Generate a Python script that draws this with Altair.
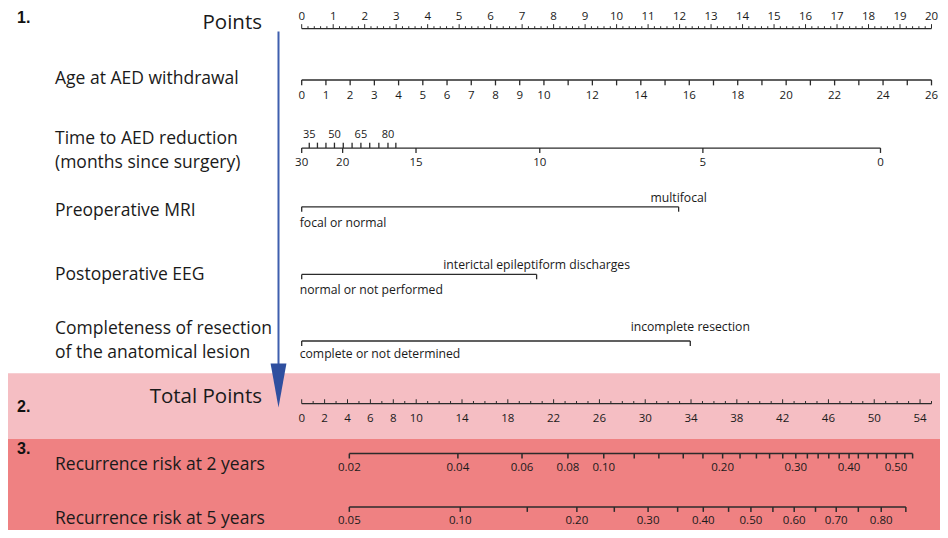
import altair as alt
import pandas as pd
import numpy as np

# ---------------- values ----------------
POINTS_LABELS = list(range(0, 21))
POINTS_MAX = 20

AGE_TICKS = list(range(0, 27))
AGE_LABELS = [0, 1, 2, 3, 4, 5, 6, 7, 8, 9, 10, 12, 14, 16, 18, 20, 22, 24, 26]
AGE_MAX = 26  # age 26 -> 20 points

TIME_LOWER = [30, 20, 15, 10, 5, 0]
TIME_LOWER_PTS = [0.0, 1.30, 3.63, 7.56, 12.74, 18.38]
TIME_UPPER = [35, 40, 45, 50, 55, 60, 65, 70, 75, 80, 85]
TIME_UPPER_PTS = [0.24, 0.50, 0.77, 1.04, 1.32, 1.60, 1.88, 2.16, 2.45, 2.74, 2.99]
TIME_UPPER_LABELS = [35, 50, 65, 80]

MRI_LEVELS = ["focal or normal", "multifocal"]
MRI_PTS = [0.0, 11.97]
EEG_LEVELS = ["normal or not performed", "interictal epileptiform discharges"]
EEG_PTS = [0.0, 7.46]
RES_LEVELS = ["complete or not determined", "incomplete resection"]
RES_PTS = [0.0, 12.34]

TOTAL_MAX = 55
TOTAL_LABELS = [0, 2, 4, 6, 8, 10, 14, 18, 22, 26, 30, 34, 38, 42, 46, 50, 54]

RISK2 = [0.02, 0.04, 0.06, 0.08, 0.10, 0.12, 0.14, 0.16, 0.18, 0.20, 0.22, 0.24,
         0.26, 0.28, 0.30, 0.32, 0.34, 0.36, 0.38, 0.40, 0.42, 0.44, 0.46, 0.48,
         0.50, 0.52, 0.54]
RISK2_TOTAL = [4.16, 13.64, 19.24, 23.25, 26.38, 29.04, 31.19, 33.32, 35.04, 36.76,
               38.28, 39.71, 40.86, 42.01, 43.15, 44.16, 45.10, 46.03, 46.94, 47.80,
               48.61, 49.47, 50.24, 51.04, 51.90, 52.67, 53.35]
RISK2_LABELS = [0.02, 0.04, 0.06, 0.08, 0.10, 0.20, 0.30, 0.40, 0.50]

RISK5 = [0.05, 0.10, 0.15, 0.20, 0.25, 0.30, 0.35, 0.40, 0.45, 0.50, 0.55, 0.60,
         0.65, 0.70, 0.75, 0.80, 0.85]
RISK5_TOTAL = [4.16, 13.85, 19.70, 24.03, 27.30, 30.25, 32.83, 35.07, 37.28, 39.23,
               41.15, 43.01, 44.87, 46.68, 48.61, 50.61, 52.76]
RISK5_LABELS = [0.05, 0.10, 0.20, 0.30, 0.40, 0.50, 0.60, 0.70, 0.80]

ROW_TITLES = ["Age at AED withdrawal", "Time to AED reduction", "(months since surgery)",
              "Preoperative MRI", "Postoperative EEG", "Completeness of resection",
              "of the anatomical lesion", "Recurrence risk at 2 years",
              "Recurrence risk at 5 years"]
BIG_TITLES = ["Points", "Total Points"]
STEP_NUMBERS = ["1.", "2.", "3."]

# ---------------- layout ----------------
W, H = 932, 522
PX0, PX20 = 301.7, 931.5          # page x of 0 and 20 points
PPP = (PX20 - PX0) / POINTS_MAX
XMIN = (8 - PX0) / PPP
XMAX = (8 + W - PX0) / PPP
YTOP, YBOT = 5, 538               # reference rows' vertical frame


def py(v):
    """vertical layout value -> pixel inside the plot area"""
    return (v - YTOP) * H / (YBOT - YTOP)


segs, labs_c, labs_l = [], [], []


def seg(x, x2, y, y2, w=1.3):
    segs.append(dict(x=x, x2=x2, y=y, y2=y2, w=w))


def tot(v):
    return v * POINTS_MAX / TOTAL_MAX


# Points ruler
seg(0, POINTS_MAX, 26, 26)
for v in np.arange(0, POINTS_MAX + 0.001, 0.2):
    major = abs(v - round(v)) < 1e-6
    seg(v, v, 26, 21.5 if major else 23.6, 1.0)
for v in POINTS_LABELS:
    labs_c.append(dict(x=v, y=14.5, t=str(v), s=11.5))

# Age
seg(0, POINTS_MAX, 78.5, 78.5)
for a in AGE_TICKS:
    p = a * POINTS_MAX / AGE_MAX
    seg(p, p, 78.5, 84)
for a in AGE_LABELS:
    labs_c.append(dict(x=a * POINTS_MAX / AGE_MAX, y=95, t=str(a), s=11.5))

# Time to AED reduction
seg(0, TIME_LOWER_PTS[-1], 148, 148)
for v, p in zip(TIME_LOWER, TIME_LOWER_PTS):
    seg(p, p, 148, 153)
    labs_c.append(dict(x=p, y=163, t=str(v), s=11.5))
for v, p in zip(TIME_UPPER, TIME_UPPER_PTS):
    seg(p, p, 148, 142.5)
    if v in TIME_UPPER_LABELS:
        labs_c.append(dict(x=p, y=135, t=str(v), s=11))

# categorical rows
for levels, pts, yl, ya, yb in [(MRI_LEVELS, MRI_PTS, 208, 199, 225),
                                (EEG_LEVELS, EEG_PTS, 277, 267, 293),
                                (RES_LEVELS, RES_PTS, 345, 331, 358)]:
    seg(pts[0], pts[1], yl, yl)
    seg(pts[0], pts[0], yl, yl + 5)
    seg(pts[1], pts[1], yl, yl + 5)
    labs_l.append(dict(x=pts[0], y=yb, t=levels[0], s=12.2))
    labs_c.append(dict(x=pts[1], y=ya, t=levels[1], s=12.2))

# Total points ruler
seg(0, tot(TOTAL_MAX), 409, 409)
for v in range(0, TOTAL_MAX + 1):
    seg(tot(v), tot(v), 409, 404.5 if v in TOTAL_LABELS else 406.3, 1.0)
for v in TOTAL_LABELS:
    labs_c.append(dict(x=tot(v), y=425, t=str(v), s=11.5))

# risk axes
for risks, totals, shown, yl, ylab in [(RISK2, RISK2_TOTAL, RISK2_LABELS, 460, 474.5),
                                       (RISK5, RISK5_TOTAL, RISK5_LABELS, 514.5, 528.5)]:
    seg(tot(totals[0]), tot(totals[-1]), yl, yl, 1.5)
    for r, t in zip(risks, totals):
        seg(tot(t), tot(t), yl, yl + 5, 1.5)
        if any(abs(r - s) < 1e-9 for s in shown):
            labs_c.append(dict(x=tot(t), y=ylab, t=f"{r:.2f}", s=11.5))

seg_df = pd.DataFrame(segs)
labc_df = pd.DataFrame(labs_c)
labl_df = pd.DataFrame(labs_l)

titles_df = pd.DataFrame({
    "t": ROW_TITLES,
    "px": [55] * len(ROW_TITLES),
    "py": [77, 139, 163, 212, 278, 333, 357, 472, 527],
})
big_df = pd.DataFrame({"t": BIG_TITLES, "px": [262, 262], "py": [20, 402]})
num_df = pd.DataFrame({"t": STEP_NUMBERS, "px": [17, 17, 17], "py": [15, 412, 455]})
band_df = pd.DataFrame({"y": [378, 445], "y2": [445, 545], "c": ["#F5BEC3", "#EF8182"]})

xs = alt.Scale(domain=[XMIN, XMAX], nice=False, zero=False)
ys = alt.Scale(domain=[YTOP, YBOT], reverse=True, nice=False, zero=False)
X = lambda f: alt.X(f, type="quantitative", scale=xs, axis=None)
Y = lambda f: alt.Y(f, type="quantitative", scale=ys, axis=None)

bands = alt.Chart(band_df).mark_rect().encode(
    x=alt.value(-10), x2=alt.value(W + 10),
    y=Y("y"), y2=alt.Y2("y2"),
    color=alt.Color("c:N", scale=None),
)

rules = alt.Chart(seg_df).mark_rule(color="#2b2b2b").encode(
    x=X("x"), x2=alt.X2("x2"), y=Y("y"), y2=alt.Y2("y2"),
    strokeWidth=alt.StrokeWidth("w:Q", scale=None),
)

FONT = "Open Sans"
lab_c = alt.Chart(labc_df).mark_text(align="center", baseline="middle", font=FONT,
                                     color="#1a1a1a").encode(
    x=X("x"), y=Y("y"), text="t:N", size=alt.Size("s:Q", scale=None))
lab_l = alt.Chart(labl_df).mark_text(align="left", baseline="middle", font=FONT,
                                     color="#1a1a1a", dx=-2).encode(
    x=X("x"), y=Y("y"), text="t:N", size=alt.Size("s:Q", scale=None))

titles = alt.Chart(titles_df).mark_text(align="left", baseline="middle", font=FONT,
                                        fontSize=17.5, color="#1a1a1a").encode(
    x=alt.X("px:Q", scale=None, axis=None),
    y=Y("py"), text="t:N").transform_calculate(px="datum.px - 8")

big = alt.Chart(big_df).mark_text(align="right", baseline="middle", font=FONT,
                                  fontSize=20.5, color="#1a1a1a").encode(
    x=alt.X("px:Q", scale=None, axis=None),
    y=Y("py"), text="t:N").transform_calculate(px="datum.px - 8")

nums = alt.Chart(num_df).mark_text(align="left", baseline="middle", font="Liberation Sans",
                                   fontSize=16, fontWeight="bold", color="#111").encode(
    x=alt.X("px:Q", scale=None, axis=None),
    y=Y("py"), text="t:N").transform_calculate(px="datum.px - 8")

one = pd.DataFrame({"k": [0]})
arrow_line = alt.Chart(one).mark_rule(color="#3f5fae", strokeWidth=2).encode(
    x=alt.value(278.5 - 8), y=alt.value(py(29)), y2=alt.value(py(372)))
head_h = py(413) - py(368)
arrow_head = alt.Chart(one).mark_point(
    shape="M -0.36 -1 L 0.36 -1 L 0 1 Z", filled=True, opacity=1,
    color="#2f4f9f", size=head_h * head_h, strokeWidth=0).encode(
    x=alt.value(278.5 - 8), y=alt.value(py(390.5)))

chart = alt.layer(bands, rules, lab_c, lab_l, titles, big, nums, arrow_line, arrow_head).properties(
    width=W, height=H, padding=0,
    autosize=alt.AutoSizeParams(type="none"),
).configure_view(stroke=None)

chart.save("out.html", embed_options={"renderer": "svg", "actions": False})
